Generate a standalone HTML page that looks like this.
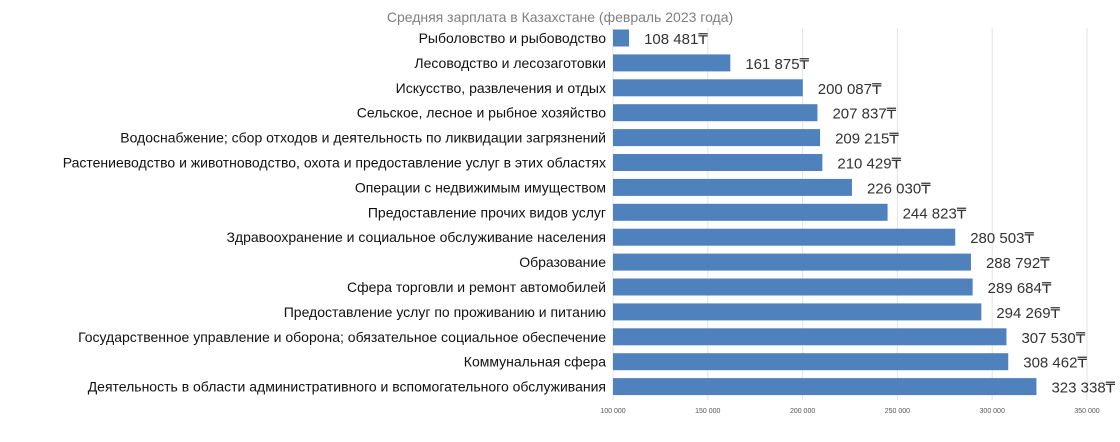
<!DOCTYPE html>
<html><head><meta charset="utf-8"><style>
body{margin:0;background:#fff;}
svg text{font-family:"Liberation Sans",sans-serif;}
</style></head><body>
<svg id="chart" width="1120" height="437">
<text x="560" y="22" text-anchor="middle" font-size="14" fill="#7f7f7f">Средняя зарплата в Казахстане (февраль 2023 года)</text>
<g id="grid"></g><g id="bars"></g>
</svg>
<script>
const categories=["Рыболовство и рыбоводство","Лесоводство и лесозаготовки","Искусство, развлечения и отдых","Сельское, лесное и рыбное хозяйство","Водоснабжение; сбор отходов и деятельность по ликвидации загрязнений","Растениеводство и животноводство, охота и предоставление услуг в этих областях","Операции с недвижимым имуществом","Предоставление прочих видов услуг","Здравоохранение и социальное обслуживание населения","Образование","Сфера торговли и ремонт автомобилей","Предоставление услуг по проживанию и питанию","Государственное управление и оборона; обязательное  социальное обеспечение","Коммунальная сфера","Деятельность в области административного и вспомогательного обслуживания"];
const values=[108481,161875,200087,207837,209215,210429,226030,244823,280503,288792,289684,294269,307530,308462,323338];
const ticks=[100000,150000,200000,250000,300000,350000];
const tickLabels=["100 000","150 000","200 000","250 000","300 000","350 000"];
const NS="http://www.w3.org/2000/svg";
const x=v=>613+(v-100000)*0.001896;
const y=i=>38+i*24.9;
function mk(t,a,p){const e=document.createElementNS(NS,t);for(const k in a)e.setAttribute(k,a[k]);p.appendChild(e);return e;}
const g=document.getElementById('grid'),b=document.getElementById('bars');
ticks.forEach((t,i)=>{
 const l=mk('line',{x1:x(t),x2:x(t),y1:28,y2:400,stroke:'#e3e3e3','stroke-width':1},g);
 
 
 const tx=mk('text',{x:x(t),y:413,'text-anchor':'middle','font-size':7,fill:'#555'},g);
 tx.textContent=tickLabels[i];
 
 
});
const fmt=v=>String(v).replace(/\B(?=(\d{3})+(?!\d))/g,' ')+'₸';
categories.forEach((c,i)=>{
 const cy=y(i);
 const r=mk('rect',{x:x(100000),y:cy-8.5,width:x(values[i])-x(100000),height:17,fill:'#4f81bd'},b);
 
 
 const cl=mk('text',{x:606,y:cy+5,'text-anchor':'end','font-size':14,fill:'#111'},b);
 cl.textContent=c;
 
 
 const vl=mk('text',{x:x(values[i])+15,y:cy+6,'font-size':15,fill:'#333'},b);
 vl.textContent=fmt(values[i]);
 
 
});
</script>
</body></html>
